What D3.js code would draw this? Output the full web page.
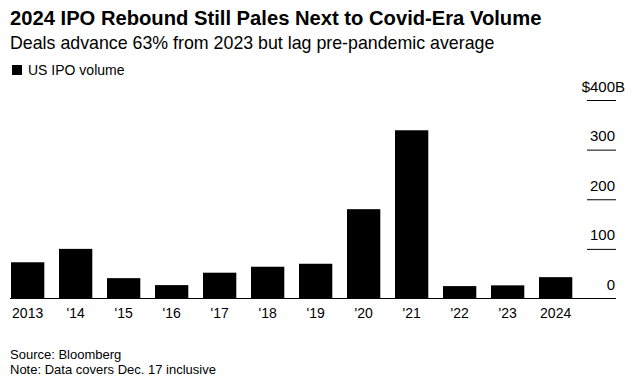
<!DOCTYPE html>
<html>
  <head>
    <meta http-equiv="Content-Type" content="text/html; charset=UTF-8" />
    <title>2024 IPO Rebound</title>
    <style>
      body { margin: 0; background: #fff; }
      svg { display: block; font-family: "Liberation Sans", Arial, sans-serif; }
      .title { font-size: 20.2px; font-weight: bold; }
      .subtitle { font-size: 17.8px; }
      .legend { font-size: 14px; }
      .tick text { font-size: 15px; fill: #000; }
      .xlab { font-size: 14px; }
      .foot { font-size: 13px; }
    </style>
  </head>
  <body>
    <svg width="635" height="384"></svg>
    <script src="https://cdnjs.cloudflare.com/ajax/libs/d3/7.8.5/d3.min.js"></script>
    <script>
const years = ['2013', "'14", "'15", "'16", "'17", "'18", "'19", "'20", "'21", "'22", "'23", '2024'];
const volume = [73, 100, 41, 27, 52, 64, 70, 180, 339, 25, 26.5, 43];
const yTicks = [0, 100, 200, 300, 400];

const svg = d3.select('svg');

const x = d3.scaleBand()
  .domain(years)
  .range([11, 572.3])
  .paddingInner(0.306)
  .paddingOuter(0);

const y = d3.scaleLinear()
  .domain([0, 400])
  .range([298.5, 100]);

// header
svg.append('text').attr('class', 'title').attr('x', 10).attr('y', 25)
  .text('2024 IPO Rebound Still Pales Next to Covid-Era Volume');
svg.append('text').attr('class', 'subtitle').attr('x', 10).attr('y', 48.5)
  .text('Deals advance 63% from 2023 but lag pre-pandemic average');
svg.append('rect').attr('x', 12).attr('y', 65).attr('width', 10).attr('height', 10).attr('fill', '#000');
svg.append('text').attr('class', 'legend').attr('x', 28).attr('y', 75)
  .text('US IPO volume');

// right axis: short tick lines ending at 616, labels above them
const yAxis = d3.axisLeft(y)
  .tickValues(yTicks)
  .tickSize(29)
  .tickFormat(d => d === 400 ? '$400' : d);

const ag = svg.append('g')
  .attr('transform', 'translate(616,0)')
  .call(yAxis);
ag.select('.domain').remove();
ag.selectAll('.tick line').attr('stroke', '#000');
ag.selectAll('.tick text')
  .attr('x', -1)
  .attr('dy', null)
  .attr('y', -9)
  .attr('text-anchor', 'end');
ag.selectAll('.tick').filter(d => d === 400)
  .append('text')
  .attr('x', -1).attr('y', -9)
  .attr('text-anchor', 'start')
  .attr('fill', '#000')
  .style('font-size', '15px')
  .text('B');
ag.selectAll('.tick').filter(d => d === 0).select('line').remove();

// bars
svg.append('g')
  .selectAll('rect')
  .data(years)
  .enter()
  .append('rect')
  .attr('x', d => x(d))
  .attr('width', x.bandwidth())
  .attr('y', (d, i) => y(volume[i]))
  .attr('height', (d, i) => y(0) - y(volume[i]))
  .attr('fill', '#000');

// baseline
svg.append('line')
  .attr('x1', 10).attr('x2', 616)
  .attr('y1', y(0)).attr('y2', y(0))
  .attr('stroke', '#000');

// x labels
svg.append('g')
  .selectAll('text')
  .data(years)
  .enter()
  .append('text')
  .attr('class', 'xlab')
  .attr('x', d => x(d) + x.bandwidth() / 2)
  .attr('y', 318)
  .attr('text-anchor', 'middle')
  .text(d => d);

// footer
svg.append('text').attr('class', 'foot').attr('x', 10).attr('y', 359).text('Source: Bloomberg');
svg.append('text').attr('class', 'foot').attr('x', 10).attr('y', 373.5).text('Note: Data covers Dec. 17 inclusive');
    </script>
  </body>
</html>
